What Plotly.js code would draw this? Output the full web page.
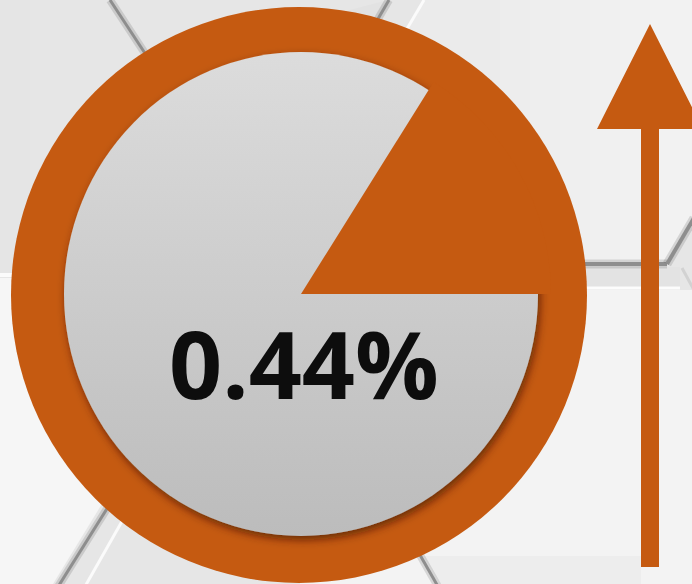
<!DOCTYPE html>
<html><head><meta charset="utf-8">
<script src="https://cdn.plot.ly/plotly-3.0.1.min.js"></script>
<style>html,body{margin:0;padding:0;overflow:hidden;background:#e6e6e6}#chart{width:692px;height:584px}</style>
</head><body><div id="chart"></div>
<script>
// ---- data ----
const sliceLabels = ['Share', 'Rest'];
const sliceValues = [16.1, 83.9];
const sliceColors = ['#c55a11', 'rgba(0,0,0,0)'];
const valueLabel = '0.44%';

// ---- geometry / style ----
const W = 692, H = 584;
const orange = '#c55a11';
const pieC = {x: 301, y: 294}, pieR = 250;
const total = sliceValues.reduce((a, b) => a + b, 0);
const rotation = 90 - 360 * sliceValues[0] / total;

const svg = "<svg xmlns='http://www.w3.org/2000/svg' width='692' height='584' viewBox='0 0 692 584'>" +
  "<defs><linearGradient id='g' x1='0' y1='0' x2='0' y2='1'>" +
  "<stop offset='0' stop-color='#dcdcdc'/><stop offset='1' stop-color='#bcbcbc'/></linearGradient>" +
  "<filter id='s' x='-20%' y='-20%' width='140%' height='140%'>" +
  "<feDropShadow dx='2' dy='4' stdDeviation='4' flood-color='#3a1800' flood-opacity='0.65'/></filter></defs>" +
  "<ellipse cx='301' cy='294' rx='237' ry='242' fill='url(#g)' filter='url(#s)'/></svg>";
const svgUri = 'data:image/svg+xml;charset=utf-8,' + encodeURIComponent(svg);

function poly(pts, fill) {
  return {type: 'path', xref: 'x', yref: 'y', layer: 'below',
    path: 'M ' + pts.map(p => p.join(' ')).join(' L ') + ' Z',
    fillcolor: fill, line: {width: 0}};
}
function seg(x0, y0, x1, y1, color, w) {
  return {type: 'line', xref: 'x', yref: 'y', layer: 'below', x0, y0, x1, y1,
    line: {color, width: w}};
}

// soft light-to-right shading of the upper right tile
const topRightShades = ['#ededed', '#eeeeee', '#efefef', '#f0f0f0', '#f1f1f1', '#f2f2f2'];
const tileStrips = topRightShades.map((c, i) =>
  poly([[500 + i * 30, 0], [692, 0], [692, 222], [667, 263], [500 + i * 30, 263]], c));

const shapes = [
  // background tiles
  poly([[424, 0], [692, 0], [692, 222], [667, 263], [272, 263]], '#ebebeb'),
  ...tileStrips,
  poly([[150, 62], [388, 0], [200, 300]], '#e2e2e2'),
  poly([[300, 267], [680, 267], [680, 287], [300, 287]], '#e3e3e3'),
  poly([[300, 290], [692, 290], [692, 584], [300, 584]], '#f3f3f3'),
  poly([[400, 520], [445, 590], [641, 590], [641, 556], [400, 556]], '#ededed'),
  poly([[0, 278], [240, 278], [53, 584], [0, 584]], '#f6f6f6'),
  poly([[0, 0], [30, 0], [30, 273], [0, 273]], '#e5e5e5'),
  // hex edges
  seg(110, 0, 152, 64, 'rgba(0,0,0,0.12)', 8),
  seg(110, 0, 152, 64, '#8e8e8e', 3),
  seg(389, 0, 368, 36, 'rgba(0,0,0,0.12)', 8),
  seg(389, 0, 368, 36, '#8e8e8e', 3),
  seg(424, 0, 398, 44, '#fbfbfb', 3),
  seg(540, 264, 667, 264, 'rgba(0,0,0,0.12)', 9),
  seg(540, 264, 667, 264, '#8e8e8e', 4),
  seg(667, 264, 694, 218, 'rgba(0,0,0,0.12)', 9),
  seg(667, 264, 694, 218, '#8e8e8e', 4),
  seg(540, 288, 680, 288, '#fcfcfc', 3),
  seg(682, 268, 694, 290, '#d2d2d2', 3),
  seg(0, 275, 40, 275, '#fbfbfb', 4),
  seg(140, 456, 56, 590, 'rgba(0,0,0,0.12)', 8),
  seg(140, 456, 56, 590, '#8e8e8e', 3),
  seg(150, 472, 83, 590, '#fbfbfb', 3),
  seg(400, 520, 440, 590, 'rgba(0,0,0,0.12)', 8),
  seg(400, 520, 440, 590, '#8e8e8e', 3),
  // outer orange disk
  {type: 'circle', xref: 'x', yref: 'y', layer: 'below', x0: 11, x1: 587, y0: 7, y1: 583,
    fillcolor: orange, line: {width: 0}},
  // arrow
  {type: 'path', xref: 'x', yref: 'y', layer: 'above',
    path: 'M 597 129 L 650 24 L 703 129 L 659 129 L 659 567 L 641 567 L 641 129 Z',
    fillcolor: orange, line: {width: 0}}
];

const data = [{
  type: 'pie',
  labels: sliceLabels,
  values: sliceValues,
  sort: false,
  direction: 'clockwise',
  rotation: rotation,
  marker: {colors: sliceColors, line: {width: 0}},
  textinfo: 'none',
  hoverinfo: 'none',
  showlegend: false,
  domain: {
    x: [(pieC.x - pieR) / W, (pieC.x + pieR) / W],
    y: [(H - pieC.y - pieR) / H, (H - pieC.y + pieR) / H]
  }
}];

const layout = {
  width: W, height: H,
  margin: {l: 0, r: 0, t: 0, b: 0, pad: 0},
  paper_bgcolor: '#e6e6e6',
  plot_bgcolor: 'rgba(0,0,0,0)',
  showlegend: false,
  xaxis: {range: [0, W], visible: false, fixedrange: true},
  yaxis: {range: [H, 0], visible: false, fixedrange: true},
  shapes: shapes,
  images: [{source: svgUri, xref: 'x', yref: 'y', x: 0, y: 0, sizex: W, sizey: H,
    xanchor: 'left', yanchor: 'top', sizing: 'stretch', layer: 'below'}],
  annotations: [{
    x: 304, y: 363, xref: 'x', yref: 'y', text: valueLabel, showarrow: false,
    xanchor: 'center', yanchor: 'middle',
    font: {family: '"Open Sans", Lato, sans-serif', size: 93, weight: 700, color: '#0d0d0d'}
  }]
};

Plotly.newPlot('chart', data, layout, {staticPlot: true, displayModeBar: false});
</script></body></html>
